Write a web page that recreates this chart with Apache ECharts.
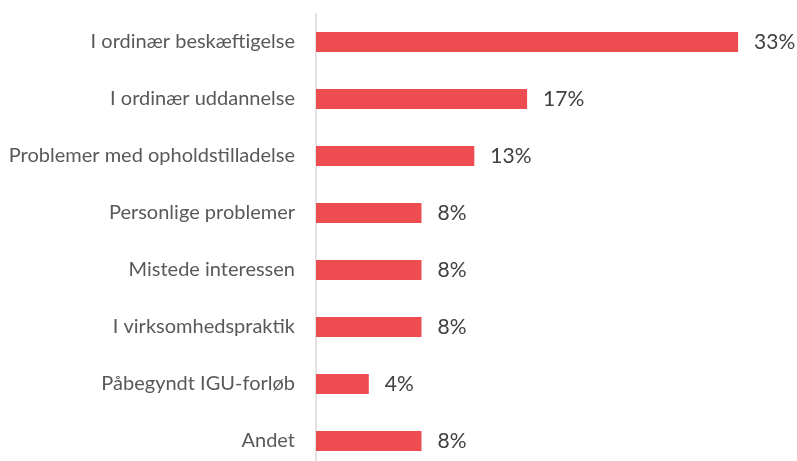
<!DOCTYPE html>
<html><head><meta charset="utf-8">
<script src="https://cdn.jsdelivr.net/npm/echarts@6/dist/echarts.min.js"></script>
<style>html,body{margin:0;padding:0;background:#fff}#c{width:797px;height:461px}</style>
</head><body><div id="c"></div>
<script>
const categories = ["I ordinær beskæftigelse","I ordinær uddannelse","Problemer med opholdstilladelse","Personlige problemer","Mistede interessen","I virksomhedspraktik","Påbegyndt IGU-forløb","Andet"];
const values = [33.33, 16.67, 12.5, 8.33, 8.33, 8.33, 4.17, 8.33];
const chart = echarts.init(document.getElementById('c'), null, {renderer:'canvas'});
chart.setOption({
  animation:false,
  grid:{left:316, width:468.6, top:13.5, height:456, containLabel:false, outerBoundsMode:'none'},
  xAxis:{type:'value', min:0, max:37, show:false},
  yAxis:{type:'category', inverse:true, data:categories,
    axisLine:{show:true, lineStyle:{color:'#d9d9d9', width:1.5}},
    axisTick:{show:false},
    axisLabel:{margin:21, color:'#595959', fontFamily:'Lato', fontSize:20}},
  series:[{type:'bar', data:values, barWidth:20,
    itemStyle:{color:'#ED4C50'},
    label:{show:true, position:'right', distance:16, color:'#404040', fontFamily:'Lato', fontSize:21,
      formatter:p=>Math.round(p.value)+'%'}}]
});
</script></body></html>
